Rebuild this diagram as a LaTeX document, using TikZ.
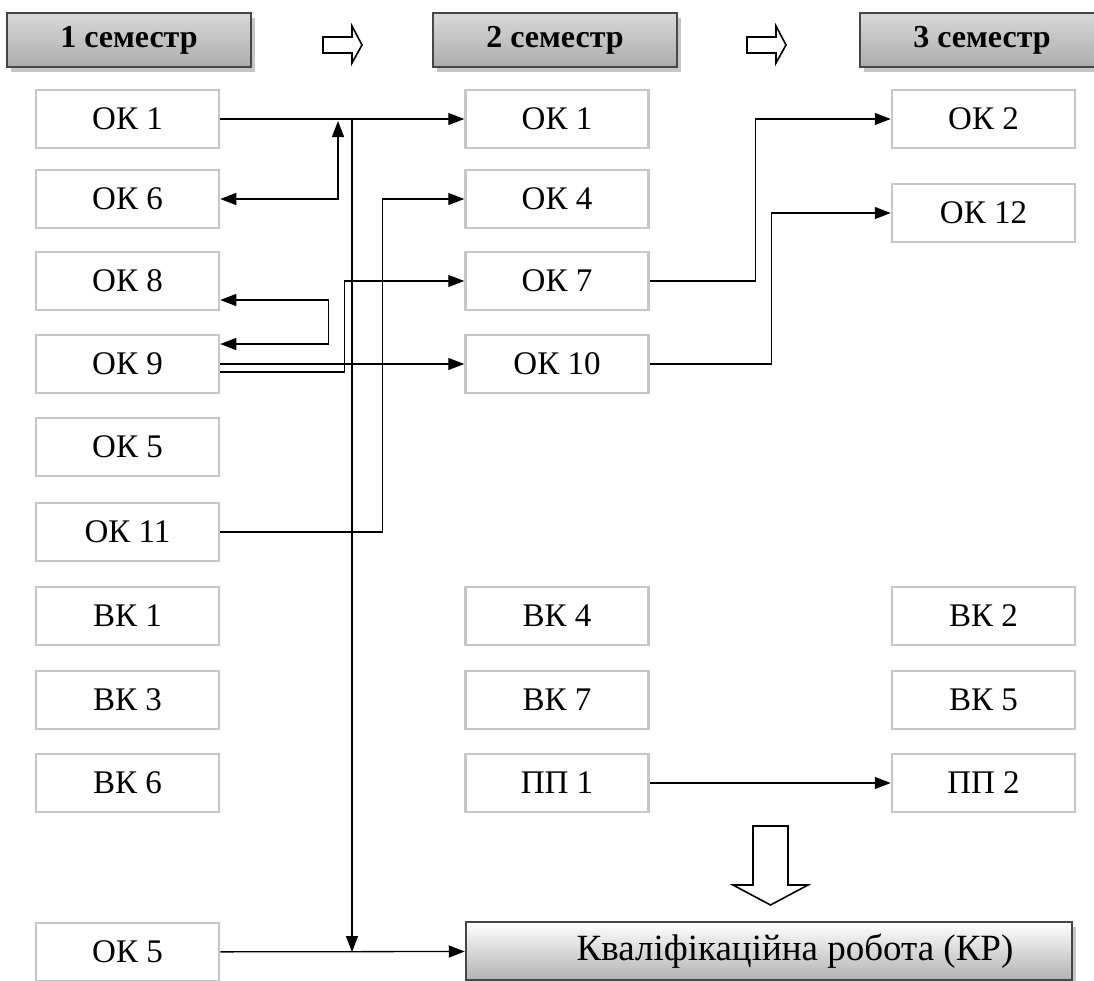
\documentclass[tikz,border=0pt]{standalone}
\usepackage{fontspec}
\setmainfont{Liberation Serif}
\usepackage{tikz}
\usetikzlibrary{arrows.meta,shadows}

\begin{document}
\begin{tikzpicture}[x=1pt,y=-1pt,
	course/.style={draw=gray!45,line width=2.5pt,fill=white,minimum width=183pt,minimum height=58pt,inner sep=0pt,font=\fontsize{33}{39}\selectfont},
	semhead/.style={draw=gray!55!black,line width=2.5pt,minimum width=244pt,minimum height=54pt,inner sep=0pt,
		top color=gray!30,middle color=gray!5,bottom color=gray!65,
		drop shadow={shadow xshift=4pt,shadow yshift=-5pt,fill=gray!45,opacity=1},
		font=\fontsize{32}{38}\selectfont\bfseries},
	thesis/.style={draw=gray!55!black,line width=2.5pt,minimum width=606pt,minimum height=58pt,inner sep=0pt,
		top color=white,bottom color=gray!60,
		drop shadow={shadow xshift=4pt,shadow yshift=-5pt,fill=gray!45,opacity=1},
		font=\fontsize{37}{43}\selectfont},
	link/.style={line width=1.3pt,-{Triangle[length=16pt,width=12pt]}},
	twolink/.style={line width=1.3pt,{Triangle[length=16pt,width=12pt]}-{Triangle[length=16pt,width=12pt]}},
	hollow/.style={draw,line width=1.6pt,fill=white,line join=miter}]
	\useasboundingbox (0,0) rectangle (1094,980);
	% semesters
	\node[semhead] (s1) at (129,40) {1 семестр};
	\node[semhead] (s2) at (555,40) {2 семестр};
	\node[semhead] (s3) at (982,40) {3 семестр};
	\draw[hollow] (323,37) -- (352,37) -- (352,26) -- (362,45) -- (352,63) -- (352,53) -- (323,53) -- cycle;
	\draw[hollow] (747,37) -- (776,37) -- (776,26) -- (786,45) -- (776,63) -- (776,53) -- (747,53) -- cycle;
	% first column
	\node[course] (a1) at (127.5,119) {ОК 1};
	\node[course] (a6) at (127.5,199) {ОК 6};
	\node[course] (a8) at (127.5,281) {ОК 8};
	\node[course] (a9) at (127.5,364) {ОК 9};
	\node[course] (a5) at (127.5,447) {ОК 5};
	\node[course] (a11) at (127.5,532) {ОК 11};
	\node[course] (v1) at (127.5,616) {ВК 1};
	\node[course] (v3) at (127.5,700) {ВК 3};
	\node[course] (v6) at (127.5,783) {ВК 6};
	\node[course] (a5b) at (127.5,952) {ОК 5};
	% second column
	\node[course] (b1) at (557,119) {ОК 1};
	\node[course] (b4) at (557,199) {ОК 4};
	\node[course] (b7) at (557,281) {ОК 7};
	\node[course] (b10) at (557,364) {ОК 10};
	\node[course] (v4) at (557,616) {ВК 4};
	\node[course] (v7) at (557,700) {ВК 7};
	\node[course] (p1) at (557,783) {ПП 1};
	% third column
	\node[course] (c2) at (983.5,119) {ОК 2};
	\node[course] (c12) at (983.5,213) {ОК 12};
	\node[course] (v2) at (983.5,616) {ВК 2};
	\node[course] (v5) at (983.5,700) {ВК 5};
	\node[course] (p2) at (983.5,783) {ПП 2};
	% qualification work
	\node[thesis] (kr) at (769,951) {\hspace*{52pt}Кваліфікаційна робота (КР)};
	\draw[hollow] (753,826) -- (788,826) -- (788,885) -- (808,885) -- (770.5,905) -- (733,885) -- (753,885) -- cycle;
	% links
	\coordinate (j1) at (352,119);
	\coordinate (j6) at (338,121);
	\draw[link] (a1) -- (b1);
	\draw[link] (j1) -- (j1 |- a5b.east);
	\draw[twolink] (a6.east) -| (j6);
	\draw[twolink] ([yshift=-19pt]a8.east) -- ++(108,0) |- ([yshift=20pt]a9.east);
	\draw[link] ([yshift=-8pt]a9.east) -- ++(124,0) |- (b7.west);
	\draw[link] (a9) -- (b10);
	\draw[link] (a11.east) -- ++(162,0) |- (b4.west);
	\draw[link] (b7.east) -- ++(106,0) |- (c2.west);
	\draw[link] (b10.east) -- ++(122,0) |- (c12.west);
	\draw[link] (p1) -- (p2);
	\draw[link] (a5b) -- (kr);
\end{tikzpicture}
\end{document}
